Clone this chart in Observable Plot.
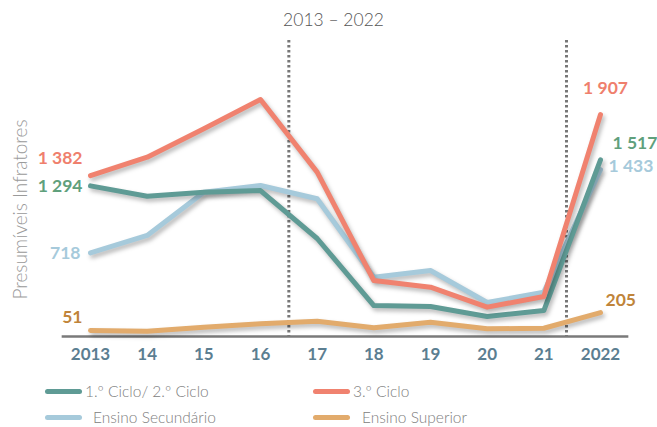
<!DOCTYPE html>
<html>
<head>
<meta charset="utf-8">
<script src="https://cdn.jsdelivr.net/npm/d3@7"></script>
<script src="https://cdn.jsdelivr.net/npm/@observablehq/plot@0.6"></script>
<style>
  body { margin: 0; background: #fff; font-family: Lato, "Open Sans", sans-serif; }
  #chart svg g[aria-label="line"] path { filter: drop-shadow(2px 3px 2px rgba(0,0,0,0.28)); }
  .legend { position: relative; width: 657px; height: 52px; font-family: Lato, sans-serif; font-size: 15.5px; color: #808080; font-weight: 300; }
  .item { position: absolute; display: flex; align-items: center; }
  .sw { width: 37px; height: 5px; border-radius: 3px; margin-right: 3px; }
</style>
</head>
<body>
<div id="chart"></div>
<div class="legend" id="legend"></div>
<script>
const years = [2013, 2014, 2015, 2016, 2017, 2018, 2019, 2020, 2021, 2022];
const tickLabels = ["2013", "14", "15", "16", "17", "18", "19", "20", "21", "2022"];
const seriesNames = ["1.º Ciclo/ 2.º Ciclo", "3.º Ciclo", "Ensino Secundário", "Ensino Superior"];
const ciclo12 = [1294, 1205, 1240, 1254, 842, 266, 258, 172, 223, 1517];
const ciclo3 = [1382, 1540, 1784, 2036, 1412, 481, 424, 252, 344, 1907];
const secundario = [718, 868, 1240, 1297, 1183, 509, 567, 292, 381, 1433];
const superior = [51, 45, 80, 109, 131, 75, 123, 66, 71, 205];
const periodBreaks = [2016.5, 2021.4];
const title = "2013 – 2022";
const yLabel = "Presumíveis Infratores";

const lineColors = ["#5f9b95", "#f0826f", "#a6cadb", "#e2ab6c"];
const labelColors = ["#5fa07c", "#ef7f6d", "#a6cadb", "#c0843a"];
const allSeries = [ciclo12, ciclo3, secundario, superior];

const rows = [];
allSeries.forEach((vals, s) => years.forEach((yr, i) => rows.push({series: seriesNames[s], year: yr, value: vals[i], s})));
const order = [3, 2, 0, 1];
const ordered = order.flatMap(s => rows.filter(r => r.s === s));

const fmt = v => d3.format(",")(v).replace(/,/g, " ");
const startRows = rows.filter(r => r.year === years[0]);
const endRows = rows.filter(r => r.year === years[years.length - 1]);
const startOff = [{dx: -8, dy: 1}, {dx: -8, dy: -17}, {dx: -10, dy: 0}, {dx: -8, dy: -13}];
const endOff = [{dx: 12, dy: -17, a: "start"}, {dx: 5, dy: -26, a: "middle"}, {dx: 8, dy: -3, a: "start"}, {dx: 5, dy: -12, a: "start"}];

const textMarks = [];
startRows.forEach(r => textMarks.push(Plot.text([r], {x: "year", y: "value", text: d => fmt(d.value), textAnchor: "end", dx: startOff[r.s].dx, dy: startOff[r.s].dy, fill: labelColors[r.s], fontSize: 17.5, fontWeight: "bold"})));
endRows.forEach(r => textMarks.push(Plot.text([r], {x: "year", y: "value", text: d => fmt(d.value), textAnchor: endOff[r.s].a, dx: endOff[r.s].dx, dy: endOff[r.s].dy, fill: labelColors[r.s], fontSize: 17.5, fontWeight: "bold"})));

const chart = Plot.plot({
  width: 657,
  height: 375,
  marginLeft: 90,
  marginRight: 57,
  marginTop: 40,
  marginBottom: 39,
  style: {fontFamily: "Lato, sans-serif", background: "#fff", overflow: "visible"},
  x: {domain: [years[0], years[years.length - 1]], label: null},
  y: {domain: [0, 2543], axis: null},
  marks: [
    Plot.ruleX(periodBreaks, {stroke: "#777", strokeWidth: 3, strokeDasharray: "2.5,2.5"}),
    Plot.ruleY([0], {x1: years[0] - 0.5, x2: years[years.length - 1] + 0.5, stroke: "#7a7a7a", strokeWidth: 2.5}),
    Plot.line(ordered, {x: "year", y: "value", z: "series", stroke: d => lineColors[d.s], strokeWidth: 5, curve: "linear", strokeLinejoin: "round", strokeLinecap: "round"}),
    Plot.axisX({ticks: years, tickFormat: d => tickLabels[years.indexOf(d)], tickSize: 0, tickPadding: 11, fontSize: 17, fontWeight: "bold", fill: "#5b7e91", label: null}),
    Plot.text([title], {frameAnchor: "top", lineAnchor: "middle", dy: -20, dx: -12, fontSize: 17.5, fontWeight: 300, fill: "#555"}),
    Plot.text([yLabel], {frameAnchor: "left", textAnchor: "middle", rotate: -90, dx: -70, dy: 21, fontSize: 19, fill: "#9a9a9a", fontWeight: 300}),
    ...textMarks
  ]
});
document.getElementById("chart").appendChild(chart);

const legendPos = [{left: 45, top: 17, gap: 3}, {left: 313, top: 17, gap: 3}, {left: 45, top: 43, gap: 11}, {left: 313, top: 43, gap: 12}];
const leg = document.getElementById("legend");
seriesNames.forEach((name, s) => {
  const it = document.createElement("div");
  it.className = "item";
  it.style.left = legendPos[s].left + "px";
  it.style.top = (legendPos[s].top - 10) + "px";
  it.innerHTML = `<span class="sw" style="background:${lineColors[s]};margin-right:${legendPos[s].gap}px"></span><span>${name}</span>`;
  leg.appendChild(it);
});
</script>
</body>
</html>
